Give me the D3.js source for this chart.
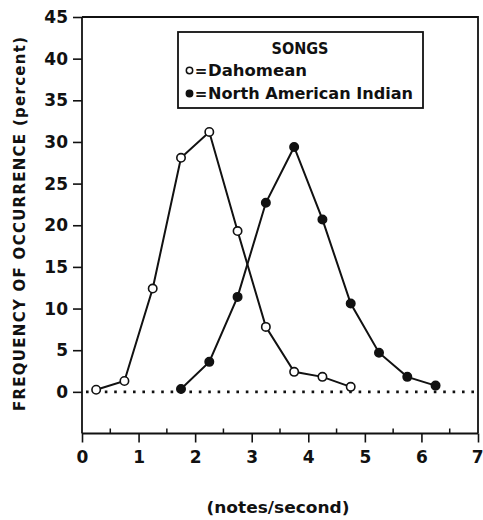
<!DOCTYPE html>
<html>
<head>
<meta charset="utf-8">
<script src="https://cdn.jsdelivr.net/npm/d3@7"></script>
<style>
  html, body { margin: 0; padding: 0; background: #fff; }
  text { font-family: "DejaVu Sans", "Liberation Sans", Arial, sans-serif; fill: #111; }
</style>
</head>
<body>
<svg id="chart" width="483" height="520"></svg>
<script>
// Rate of notes per second (bin centres) and frequency of occurrence (%)
const dahomeanRate = [0.25, 0.75, 1.25, 1.75, 2.25, 2.75, 3.25, 3.75, 4.25, 4.75];
const dahomeanFreq = [0.25, 1.3, 12.4, 28.1, 31.2, 19.3, 7.8, 2.4, 1.8, 0.6];

const indianRate = [1.75, 2.25, 2.75, 3.25, 3.75, 4.25, 4.75, 5.25, 5.75, 6.25];
const indianFreq = [0.35, 3.6, 11.4, 22.7, 29.4, 20.7, 10.6, 4.7, 1.8, 0.75];

const xTicks = [0, 1, 2, 3, 4, 5, 6, 7];
const xMinorTicks = [0.5, 1.5, 2.5, 3.5, 4.5, 5.5, 6.5];
const yTicks = [0, 5, 10, 15, 20, 25, 30, 35, 40, 45];

const svg = d3.select("#chart");
const ink = "#111";
const font = "'DejaVu Sans', 'Liberation Sans', Arial, sans-serif";

const x = d3.scaleLinear().domain([0, 7]).range([82, 478]);
const y = d3.scaleLinear().domain([-5, 45]).range([433.5, 17]);

// frame: top and right edges
svg.append("path")
  .attr("d", `M${x(0)},${y(45)}H${x(7)}V${y(-5)}`)
  .attr("fill", "none").attr("stroke", ink).attr("stroke-width", 1.8);

// y axis
const yAxis = svg.append("g")
  .attr("transform", `translate(${x(0)},0)`)
  .call(d3.axisLeft(y).tickValues(yTicks).tickFormat(d3.format("d")).tickSize(9).tickPadding(5));
yAxis.select(".domain").attr("stroke", ink).attr("stroke-width", 1.8)
  .attr("d", `M0,${y(45)}V${y(-5)}`);
yAxis.selectAll(".tick line").attr("stroke", ink).attr("stroke-width", 1.6);
yAxis.selectAll(".tick text")
  .style("font-family", font)
  .style("font-size", "17px").style("font-weight", "bold").attr("fill", ink);

// x axis
const xAxis = svg.append("g")
  .attr("transform", `translate(0,${y(-5)})`)
  .call(d3.axisBottom(x).tickValues(xTicks).tickFormat(d3.format("d")).tickSize(9).tickPadding(8));
xAxis.select(".domain").attr("stroke", ink).attr("stroke-width", 1.8)
  .attr("d", `M${x(0)},0H${x(7)}`);
xAxis.selectAll(".tick line").attr("stroke", ink).attr("stroke-width", 1.6);
xAxis.selectAll(".tick text")
  .style("font-family", font)
  .style("font-size", "17px").style("font-weight", "bold").attr("fill", ink);
// keep the last label inside the page edge
xAxis.selectAll(".tick text").filter(d => d === 7).attr("text-anchor", "end").attr("dx", "0.3em");

// minor ticks pointing into the plot
svg.append("g").selectAll("line").data(xMinorTicks).join("line")
  .attr("x1", d => x(d)).attr("x2", d => x(d))
  .attr("y1", y(-5)).attr("y2", y(-5) - 5)
  .attr("stroke", ink).attr("stroke-width", 1.5);

// dotted zero line
svg.append("line")
  .attr("x1", x(0) + 4).attr("x2", x(7) - 2)
  .attr("y1", y(0)).attr("y2", y(0))
  .attr("stroke", ink).attr("stroke-width", 2.6)
  .attr("stroke-dasharray", "2.6,6.8");

const line = d3.line().x(d => x(d[0])).y(d => y(d[1]));

function drawSeries(rates, freqs, filled) {
  const pts = rates.map((r, i) => [r, freqs[i]]);
  svg.append("path").datum(pts)
    .attr("d", line)
    .attr("fill", "none").attr("stroke", ink).attr("stroke-width", 2);
  svg.append("g").selectAll("circle").data(pts).join("circle")
    .attr("cx", d => x(d[0])).attr("cy", d => y(d[1]))
    .attr("r", 4.2)
    .attr("fill", filled ? ink : "#fff")
    .attr("stroke", ink).attr("stroke-width", 1.6);
}
drawSeries(dahomeanRate, dahomeanFreq, false);
drawSeries(indianRate, indianFreq, true);

// legend
const lg = svg.append("g");
lg.append("rect")
  .attr("x", 178).attr("y", 32).attr("width", 245).attr("height", 76)
  .attr("fill", "#fff").attr("stroke", ink).attr("stroke-width", 1.8);
lg.append("text").attr("x", 300).attr("y", 54)
  .attr("text-anchor", "middle")
  .attr("textLength", 57).attr("lengthAdjust", "spacingAndGlyphs")
  .style("font-size", "16px").style("font-weight", "bold")
  .text("SONGS");
lg.append("circle").attr("cx", 189.5).attr("cy", 70.5).attr("r", 3.2)
  .attr("fill", "#fff").attr("stroke", ink).attr("stroke-width", 1.5);
lg.append("text").attr("x", 201).attr("y", 76)
  .attr("text-anchor", "middle")
  .style("font-size", "15px").style("font-weight", "bold")
  .text("=");
lg.append("text").attr("x", 208).attr("y", 76)
  .attr("textLength", 99).attr("lengthAdjust", "spacingAndGlyphs")
  .style("font-size", "16px").style("font-weight", "bold")
  .text("Dahomean");
lg.append("circle").attr("cx", 189.5).attr("cy", 93.5).attr("r", 3.2)
  .attr("fill", ink).attr("stroke", ink).attr("stroke-width", 1.5);
lg.append("text").attr("x", 201).attr("y", 99)
  .attr("text-anchor", "middle")
  .style("font-size", "15px").style("font-weight", "bold")
  .text("=");
lg.append("text").attr("x", 208).attr("y", 99)
  .attr("textLength", 205).attr("lengthAdjust", "spacingAndGlyphs")
  .style("font-size", "16px").style("font-weight", "bold")
  .text("North American Indian");

// axis titles
svg.append("text")
  .attr("transform", "translate(25,224) rotate(-90)")
  .attr("text-anchor", "middle")
  .attr("textLength", 374).attr("lengthAdjust", "spacing")
  .style("font-size", "15px").style("font-weight", "bold")
  .text("FREQUENCY OF OCCURRENCE (percent)");

svg.append("text")
  .attr("x", 278).attr("y", 513)
  .attr("text-anchor", "middle")
  .attr("textLength", 143).attr("lengthAdjust", "spacingAndGlyphs")
  .style("font-size", "16px").style("font-weight", "bold")
  .text("(notes/second)");
</script>
</body>
</html>
